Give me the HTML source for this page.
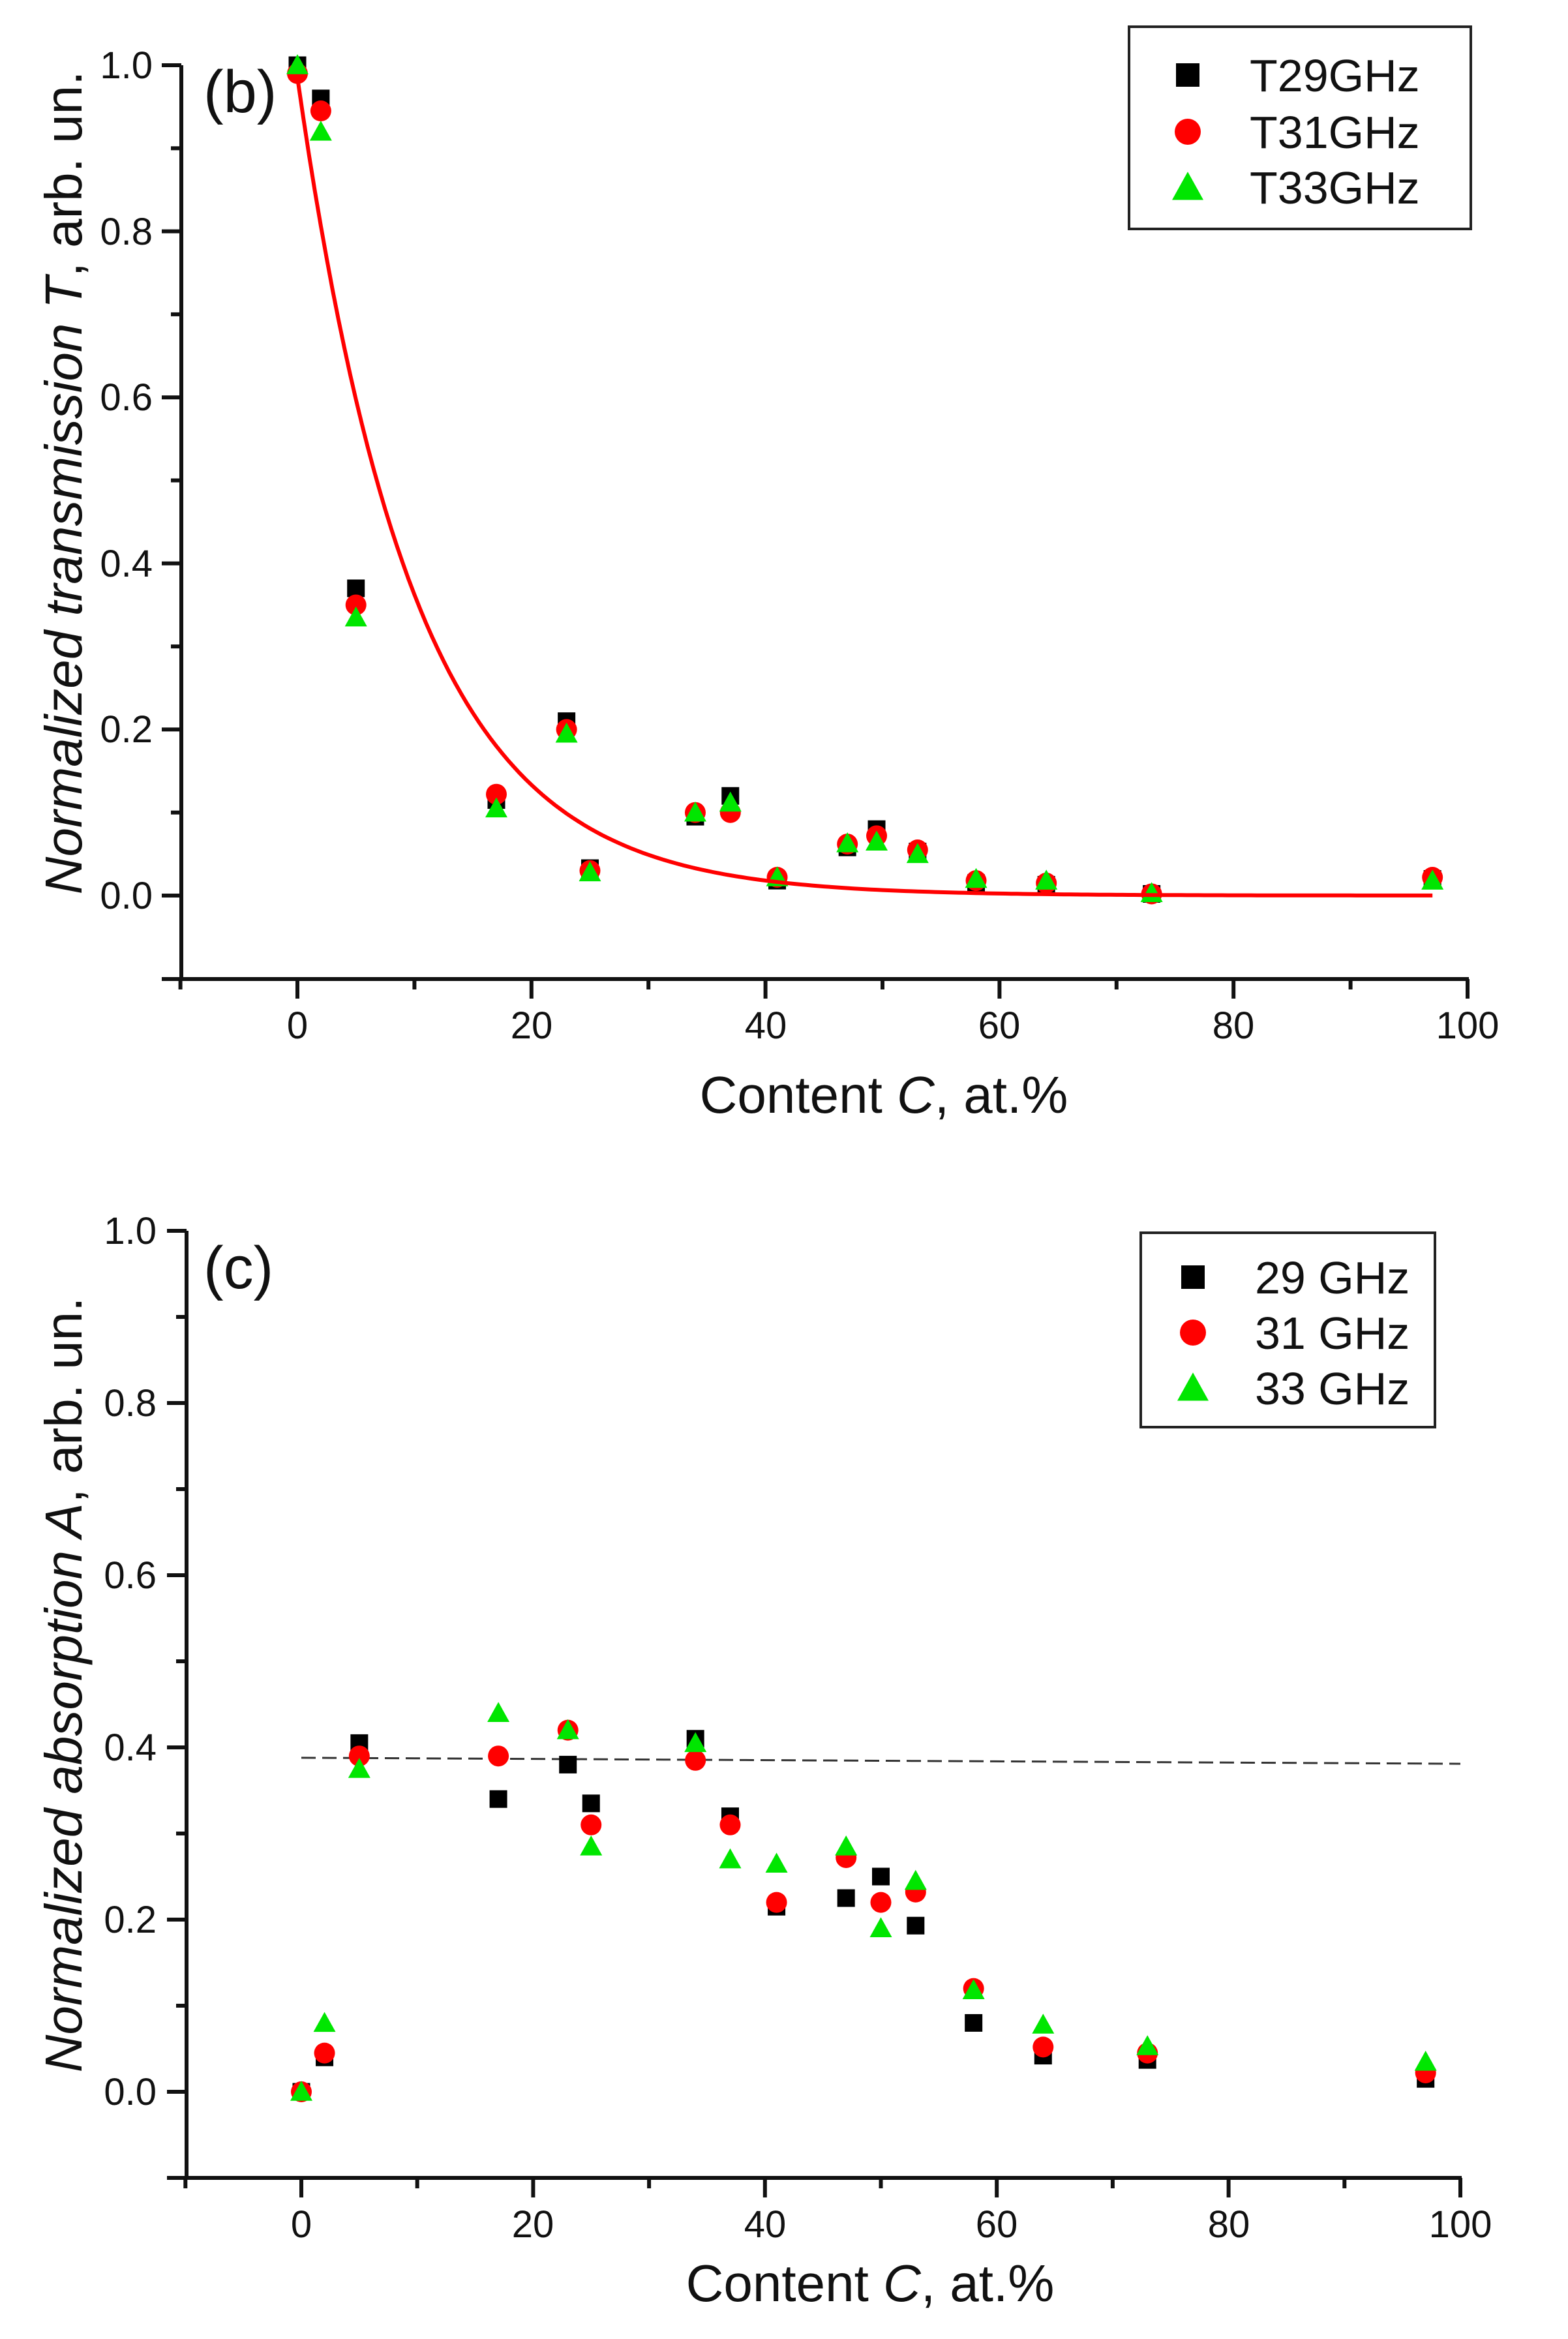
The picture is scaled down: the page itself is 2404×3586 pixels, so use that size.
<!DOCTYPE html>
<html><head><meta charset="utf-8"><style>
html,body{margin:0;padding:0;background:#fff;}
svg{display:block;font-family:"Liberation Sans",Arial,sans-serif;}
</style></head><body>
<svg id="s" width="2404" height="3586" viewBox="0 0 2404 3586" xmlns="http://www.w3.org/2000/svg">
<rect width="2404" height="3586" fill="#fff"/>
<g id="g"></g>
<!-- top chart text -->
<g font-size="58" fill="#111" text-anchor="end">
<text x="234" y="1393">0.0</text><text x="234" y="1138">0.2</text><text x="234" y="884">0.4</text>
<text x="234" y="629">0.6</text><text x="234" y="375">0.8</text><text x="234" y="120">1.0</text>
</g>
<g font-size="58" fill="#111" text-anchor="middle">
<text x="456" y="1592">0</text><text x="815" y="1592">20</text><text x="1174" y="1592">40</text>
<text x="1532" y="1592">60</text><text x="1891" y="1592">80</text><text x="2250" y="1592">100</text>
</g>
<text x="1355" y="1706" font-size="80" text-anchor="middle" fill="#111">Content <tspan font-style="italic">C</tspan>, at.%</text>
<text transform="translate(125,740) rotate(-90)" font-size="80" text-anchor="middle" fill="#111"><tspan font-style="italic">Normalized transmission T</tspan>, arb. un.</text>
<text x="312" y="172" font-size="92" fill="#111">(b)</text>
<rect x="1731" y="41" width="524" height="310" fill="none" stroke="#222" stroke-width="4"/>
<g font-size="70" fill="#111">
<text x="1916" y="140">T29GHz</text><text x="1916" y="227">T31GHz</text><text x="1916" y="312">T33GHz</text>
</g>
<!-- bottom chart text -->
<g font-size="58" fill="#111" text-anchor="end">
<text x="240" y="3227">0.0</text><text x="240" y="2963">0.2</text><text x="240" y="2699">0.4</text>
<text x="240" y="2435">0.6</text><text x="240" y="2171">0.8</text><text x="240" y="1907">1.0</text>
</g>
<g font-size="58" fill="#111" text-anchor="middle">
<text x="462" y="3430">0</text><text x="817" y="3430">20</text><text x="1173" y="3430">40</text>
<text x="1528" y="3430">60</text><text x="1884" y="3430">80</text><text x="2239" y="3430">100</text>
</g>
<text x="1334" y="3528" font-size="80" text-anchor="middle" fill="#111">Content <tspan font-style="italic">C</tspan>, at.%</text>
<text transform="translate(125,2583) rotate(-90)" font-size="80" text-anchor="middle" fill="#111"><tspan font-style="italic">Normalized absorption A</tspan>, arb. un.</text>
<text x="312" y="1975" font-size="92" fill="#111">(c)</text>
<rect x="1749" y="1890" width="451" height="298" fill="none" stroke="#222" stroke-width="4"/>
<g font-size="70" fill="#111">
<text x="1924" y="1983">29 GHz</text><text x="1924" y="2068">31 GHz</text><text x="1924" y="2153">33 GHz</text>
</g>
</svg>
<script>
(function(){
var NS="http://www.w3.org/2000/svg",g=document.getElementById("g");
function el(t,a){var e=document.createElementNS(NS,t);for(var k in a)e.setAttribute(k,a[k]);g.appendChild(e);return e;}
function sq(x,y,s){el("rect",{x:x-s/2,y:y-s/2,width:s,height:s,fill:"#000"});}
function ci(x,y,r){el("circle",{cx:x,cy:y,r:r,fill:"#f00"});}
function tr(x,y,w){var h=w*0.9;el("polygon",{points:(x-w/2)+","+(y+h*0.45)+" "+(x+w/2)+","+(y+h*0.45)+" "+x+","+(y-h*0.55),fill:"#00e600"});}
function axes(ax,x0,sx,y0,sy,bot){
 el("line",{x1:ax,y1:y0-sy*1.0,x2:ax,y2:bot+2,stroke:"#111","stroke-width":6});
 el("line",{x1:ax-30,y1:bot,x2:x0+sx*100+2,y2:bot,stroke:"#111","stroke-width":6});
 for(var i=0;i<=10;i++){var y=y0-sy*i*0.1;var L=(i%2==0)?30:16;el("line",{x1:ax-L,y1:y,x2:ax,y2:y,stroke:"#111","stroke-width":6});}
 for(var v=-10;v<=100;v+=10){var x=x0+sx*v;var L=(v%20==0)?30:16;el("line",{x1:x,y1:bot,x2:x,y2:bot+L,stroke:"#111","stroke-width":6});}
}
var X0=456,SX=17.94,Y0=1373,SY=1273;
axes(278,X0,SX,Y0,SY,1501);
var d="";for(var x=0;x<=97;x+=0.5){var y=0.985*Math.exp(-x/10);d+=(x==0?"M":"L")+(X0+SX*x).toFixed(1)+","+(Y0-SY*y).toFixed(1);}
var T=[[0,1.0,0.99,1.0],[2,0.96,0.945,0.92],[5,0.37,0.35,0.335],[17,0.115,0.122,0.105],[23,0.21,0.2,0.195],[25,0.033,0.03,0.028],[34,0.095,0.1,0.1],[37,0.12,0.1,0.112],[41,0.018,0.022,0.022],[47,0.058,0.062,0.063],[49.5,0.08,0.072,0.065],[53,0.053,0.055,0.05],[58,0.015,0.018,0.02],[64,0.013,0.015,0.018],[73,0.002,0.002,0.003],[97,0.02,0.022,0.018]];
T.forEach(function(p){var x=X0+SX*p[0];sq(x,Y0-SY*p[1],27);ci(x,Y0-SY*p[2],16);tr(x,Y0-SY*p[3],34);});
el("path",{d:d,fill:"none",stroke:"#f00","stroke-width":6});
sq(1821,115,36);ci(1821,202,20);tr(1821,287,48);
var B0=462,BX=17.77,BY0=3207,BY=1320;
axes(286,B0,BX,BY0,BY,3339);
el("line",{x1:B0,y1:BY0-BY*0.388,x2:B0+BX*100,y2:BY0-BY*0.381,stroke:"#333","stroke-width":3,"stroke-dasharray":"22,10"});
var A=[[0,0,0,0],[2,0.04,0.045,0.08],[5,0.405,0.39,0.375],[17,0.34,0.39,0.44],[23,0.38,0.42,0.42],[25,0.335,0.31,0.285],[34,0.41,0.385,0.405],[37,0.32,0.31,0.27],[41,0.215,0.22,0.265],[47,0.225,0.272,0.285],[50,0.25,0.22,0.19],[53,0.193,0.232,0.245],[58,0.08,0.12,0.118],[64,0.042,0.052,0.078],[73,0.037,0.045,0.053],[97,0.015,0.022,0.035]];
A.forEach(function(p){var x=B0+BX*p[0];sq(x,BY0-BY*p[1],27);ci(x,BY0-BY*p[2],16);tr(x,BY0-BY*p[3],34);});
sq(1829,1958,36);ci(1829,2043,20);tr(1829,2128,48);
})();
</script>
</body></html>
